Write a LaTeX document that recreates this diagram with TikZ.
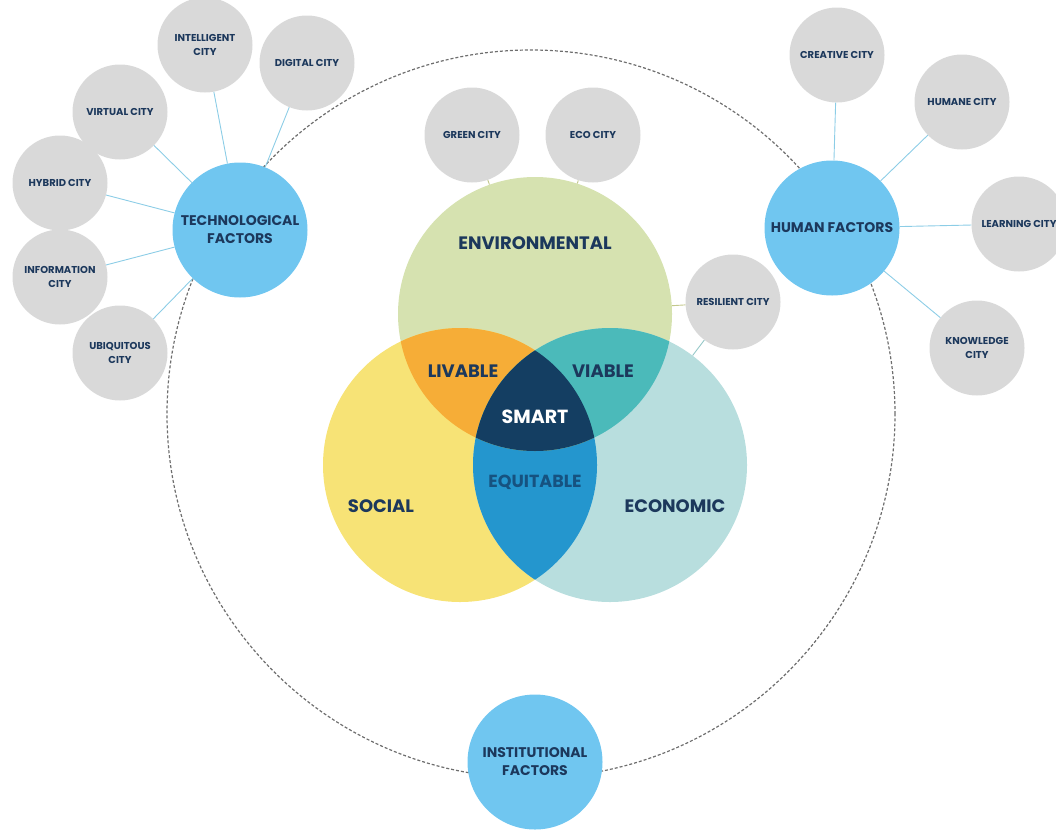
\documentclass[tikz,border=0pt]{standalone}
\usepackage{fontspec}
\setmainfont{Poppins}
\usepackage{tikz}

\definecolor{envGreen}{RGB}{214,226,176}
\definecolor{socYellow}{RGB}{247,227,118}
\definecolor{ecoTeal}{RGB}{184,222,222}
\definecolor{livOrange}{RGB}{246,173,55}
\definecolor{viaTeal}{RGB}{75,186,186}
\definecolor{equBlue}{RGB}{36,150,206}
\definecolor{smartNavy}{RGB}{20,62,98}
\definecolor{factorBlue}{RGB}{112,198,240}
\definecolor{cityGray}{RGB}{217,217,217}
\definecolor{navyText}{RGB}{28,56,92}
\definecolor{equText}{RGB}{22,82,128}
\definecolor{linkBlue}{RGB}{140,205,230}
\definecolor{linkOlive}{RGB}{195,200,140}
\definecolor{linkTeal}{RGB}{150,200,200}
\definecolor{dashGray}{RGB}{110,110,110}

\tikzset{
  city/.style={circle, fill=cityGray, minimum size=95pt, inner sep=0pt, align=center,
    text=navyText, font=\fontsize{10}{14}\selectfont\bfseries},
  factor/.style={circle, fill=factorBlue, minimum size=135pt, inner sep=0pt, align=center,
    text=navyText, font=\fontsize{14}{18}\selectfont\bfseries},
  venn/.style={circle, minimum size=274pt, inner sep=0pt},
  vlabel/.style={text=navyText, font=\fontsize{18}{20}\selectfont\bfseries},
  link/.style={draw=linkBlue, line width=0.9pt},
}

\begin{document}
\begin{tikzpicture}[x=1pt,y=-1pt]
    \useasboundingbox (0,0) rectangle (1056,830);
    \draw[dashGray, line width=1.2pt, dash pattern=on 3pt off 2pt] (531,414) circle[radius=364pt];

    % three spheres
    \node[venn, fill=envGreen] (env) at (535,314) {};
    \node[venn, fill=socYellow] (soc) at (460,465) {};
    \node[venn, fill=ecoTeal] (econ) at (610,465) {};
    \begin{scope}
        \clip (soc.center) circle[radius=137pt];
        \fill[equBlue] (econ.center) circle[radius=137pt];
    \end{scope}
    \begin{scope}
        \clip (env.center) circle[radius=137pt];
        \fill[livOrange] (soc.center) circle[radius=137pt];
        \fill[viaTeal] (econ.center) circle[radius=137pt];
        \clip (soc.center) circle[radius=137pt];
        \fill[smartNavy] (econ.center) circle[radius=137pt];
    \end{scope}

    \node[vlabel] (envtxt) at (535,243) {ENVIRONMENTAL};
    \node[vlabel] (soctxt) at (381,506) {SOCIAL};
    \node[vlabel] (econtxt) at (675,506) {ECONOMIC};
    \node[vlabel] (livtxt) at (463,371) {LIVABLE};
    \node[vlabel] (viatxt) at (603,371) {VIABLE};
    \node[vlabel, text=white, font=\fontsize{19}{21}\selectfont\bfseries] (smarttxt) at (535,417) {SMART};
    \node[vlabel, text=equText, font=\fontsize{17.5}{20}\selectfont\bfseries] (equtxt) at (535,482) {EQUITABLE};

    % factors
    \node[factor] (tech) at (240,230) {TECHNOLOGICAL\\FACTORS};
    \node[factor] (human) at (832,228) {HUMAN FACTORS};
    \node[factor] (inst) at (535,762) {INSTITUTIONAL\\FACTORS};

    % cities
    \foreach \nm/\x/\y/\txt in {intel/205/45/{INTELLIGENT\\CITY}, digital/307/63/{DIGITAL CITY},
        virtual/120/112/{VIRTUAL CITY}, hybrid/60/183/{HYBRID CITY},
        info/60/277/{INFORMATION\\CITY}, ubiq/120/353/{UBIQUITOUS\\CITY},
        creative/837/55/{CREATIVE CITY}, humane/962/102/{HUMANE CITY},
        learning/1019/224/{LEARNING CITY}, knowledge/977/348/{KNOWLEDGE\\CITY},
        green/472/135/{GREEN CITY}, ecocity/593/135/{ECO CITY}, resilient/733/302/{RESILIENT CITY}}
        \node[city] (\nm) at (\x,\y) {\txt};

    \foreach \c in {intel,digital,virtual,hybrid,info,ubiq}
        \draw[link] (\c) -- (tech);
    \foreach \c in {creative,humane,learning,knowledge}
        \draw[link] (\c) -- (human);
    \draw[link, draw=linkOlive] (green) -- (env);
    \draw[link, draw=linkOlive] (ecocity) -- (env);
    \draw[link, draw=linkOlive] (resilient) -- (env);
    \draw[link, draw=linkTeal] (resilient) -- (econ);
\end{tikzpicture}
\end{document}
